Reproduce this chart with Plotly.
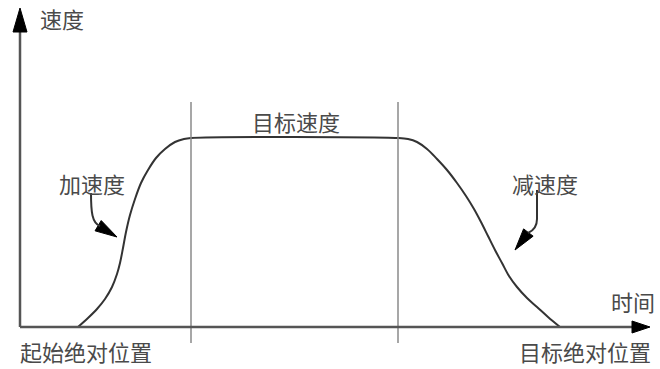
import math
import plotly.graph_objects as go

# speed profile (time / speed in pixel-ish units)
t_up = [58, 68, 77, 85, 92, 97, 100, 103, 106, 110, 115, 121, 128, 136, 145, 155, 164, 171]
v_up = [0, 9, 18, 28, 40, 53, 64, 79, 95, 112, 128, 144, 157, 169, 178, 185, 188, 189]
t_down = [378, 388, 397, 407, 417, 427, 437, 446, 454, 461, 468, 475, 482, 489, 497, 507, 517, 528, 540]
v_down = [189, 188, 185, 178, 168, 157, 144, 131, 118, 105, 91, 77, 64, 51, 40, 29, 20, 10, 0]

labels_axis = ["速度", "时间"]
label_start = "起始绝对位置"
label_end = "目标绝对位置"
label_top = "目标速度"
label_acc = "加速度"
label_dec = "减速度"

x_end = 630
y_end = 319

ink = "#333333"
axis_col = "#555555"
txt_col = "#4a4a4a"
font = dict(family="Noto Sans CJK SC", size=22, color=txt_col)


def head(tx, ty, dx, dy, length, width):
    # filled triangle arrow head with its tip at (tx, ty), pointing along (dx, dy)
    n = math.hypot(dx, dy)
    ux, uy = dx / n, dy / n
    bx, by = tx - ux * length, ty - uy * length
    px, py = -uy * width / 2, ux * width / 2
    return "M {} {} L {} {} L {} {} Z".format(tx, ty, bx + px, by + py, bx - px, by - py)


fig = go.Figure()

# speed curve
fig.add_trace(go.Scatter(x=t_up + t_down, y=v_up + v_down, mode="lines",
                         line=dict(color=ink, width=2, shape="spline", smoothing=1),
                         hoverinfo="skip"))

# plateau boundaries
for tx in [t_up[-1], t_down[0]]:
    fig.add_shape(type="line", x0=tx, x1=tx, y0=-16, y1=225,
                  line=dict(color="#8a8a8a", width=1.5))

# axes
fig.add_shape(type="line", x0=0, x1=x_end - 16, y0=0, y1=0, line=dict(color=axis_col, width=2.5))
fig.add_shape(type="line", x0=0, x1=0, y0=0, y1=y_end - 22, line=dict(color=axis_col, width=2.5))

heads = [
    head(x_end, 0, 1, 0, 18, 12),
    head(0, y_end, 0, 1, 24, 14),
    head(97, 90, 20, -12, 22, 12),
    head(495, 77, -13, -17, 22, 12),
]
for p in heads:
    fig.add_shape(type="path", path=p, fillcolor="black", line=dict(color="black", width=1))

# callout stems
fig.add_shape(type="path", path="M 71 134 C 71 115, 72 104, 80 101",
              line=dict(color=ink, width=2))
fig.add_shape(type="path", path="M 517 137 L 517 108 Q 517 98 508 94",
              line=dict(color=ink, width=2))

texts = [
    (labels_axis[0], 42, 309),
    (labels_axis[1], 613, 26),
    (label_top, 276, 206),
    (label_acc, 72, 144),
    (label_dec, 525, 144),
    (label_start, 66, -24),
    (label_end, 565, -24),
]
for s, x, y in texts:
    fig.add_annotation(x=x, y=y, text=s, showarrow=False, font=font,
                       xanchor="center", yanchor="middle")

fig.update_layout(
    width=660, height=369,
    margin=dict(l=0, r=0, t=0, b=0),
    paper_bgcolor="white", plot_bgcolor="white",
    showlegend=False,
    xaxis=dict(range=[-20, 640], visible=False),
    yaxis=dict(range=[-42, 327], visible=False),
)

fig.write_html("out.html", config={"displayModeBar": False},
               post_script="document.body.style.margin='0';")
